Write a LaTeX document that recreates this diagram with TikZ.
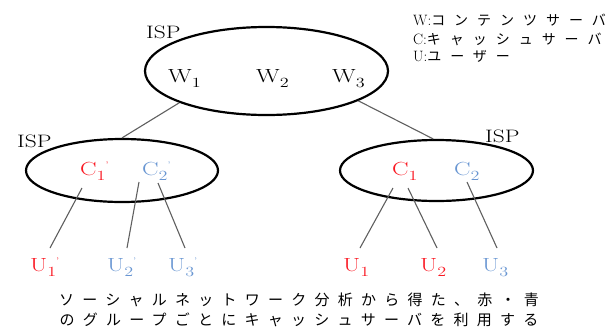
\documentclass[tikz,border=0pt]{standalone}
\usepackage{fontspec}
\usepackage{graphicx}
\usetikzlibrary{shapes.geometric}
\newfontfamily\jpfont[LetterSpace=55]{Noto Sans CJK JP}
\newfontfamily\jplegend[LetterSpace=64]{Noto Sans CJK JP}
\definecolor{cred}{RGB}{250,25,35}
\definecolor{cblue}{RGB}{105,150,210}
\definecolor{lgray}{RGB}{95,95,95}
% label: letter, subscript, prime
\newcommand\lab[3]{\scalebox{1.3}[1]{\fontsize{19}{19}\selectfont #1\raisebox{-5pt}{\fontsize{14}{14}\selectfont #2}#3}}
\newcommand\pr{\raisebox{7.5pt}{\fontsize{8}{8}\selectfont '}}
\newcommand\isp{\scalebox{1.3}[1]{\fontsize{18}{18}\selectfont ISP}}
\begin{document}
\begin{tikzpicture}[x=1pt,y=-1pt,
  ispell/.style={ellipse,draw=black,line width=2.2pt,inner sep=0pt},
  lbl/.style={anchor=base west,inner sep=0pt},
  conn/.style={draw=lgray,line width=1.1pt},
  legend/.style={anchor=west,inner sep=0pt,font=\jplegend\fontsize{14}{14}\selectfont}]
\useasboundingbox (0,0) rectangle (610,327);
% ellipses
\node[ispell,minimum width=243pt,minimum height=88pt] (top) at (266.5,71) {};
\node[ispell,minimum width=192pt,minimum height=63pt] (left) at (122,170.5) {};
\node[ispell,minimum width=193pt,minimum height=61pt] (right) at (436.5,170.5) {};
% ISP labels
\node[lbl] (ispT) at (146,38) {\isp};
\node[lbl] (ispL) at (17,147) {\isp};
\node[lbl] (ispR) at (485,142) {\isp};
% W labels
\node[lbl] (w1) at (168,82) {\lab{W}{1}{}};
\node[lbl] (w2) at (256,82) {\lab{W}{2}{}};
\node[lbl] (w3) at (332,82) {\lab{W}{3}{}};
% C labels
\node[lbl,text=cred] (c1p) at (80,175) {\lab{C}{1}{\pr}};
\node[lbl,text=cblue] (c2p) at (142,175) {\lab{C}{2}{\pr}};
\node[lbl,text=cred] (c1) at (392,175) {\lab{C}{1}{}};
\node[lbl,text=cblue] (c2) at (454,175) {\lab{C}{2}{}};
% U labels
\node[lbl,text=cred] (u1p) at (30,271) {\lab{U}{1}{\pr}};
\node[lbl,text=cblue] (u2p) at (107,271) {\lab{U}{2}{\pr}};
\node[lbl,text=cblue] (u3p) at (168,271) {\lab{U}{3}{\pr}};
\node[lbl,text=cred] (u1) at (343,271) {\lab{U}{1}{}};
\node[lbl,text=cred] (u2) at (420,271) {\lab{U}{2}{}};
\node[lbl,text=cblue] (u3) at (482,271) {\lab{U}{3}{}};
% connector end points
\coordinate (c1pS) at (82,188);
\coordinate (c2pSa) at (139,182);
\coordinate (c2pSb) at (158,183);
\coordinate (c1Sa) at (393,188);
\coordinate (c1Sb) at (408,188);
\coordinate (c2S) at (467,182);
\coordinate (u1pN) at (50,248);
\coordinate (u2pN) at (127,248);
\coordinate (u3pN) at (185,248);
\coordinate (u1N) at (360,248);
\coordinate (u2N) at (437,248);
\coordinate (u3N) at (497,248);
% connectors
\draw[conn] (top.200) -- (left.north);
\draw[conn] (top.342) -- (right.96);
\draw[conn] (c1pS) -- (u1pN);
\draw[conn] (c2pSa) -- (u2pN);
\draw[conn] (c2pSb) -- (u3pN);
\draw[conn] (c1Sa) -- (u1N);
\draw[conn] (c1Sb) -- (u2N);
\draw[conn] (c2S) -- (u3N);
% legend
\node[legend] (lgW) at (413,20) {{\fontsize{15}{15}\selectfont\rmfamily W:}コンテンツサーバ};
\node[legend] (lgC) at (413,39) {{\fontsize{15}{15}\selectfont\rmfamily C:}キャッシュサーバ};
\node[legend] (lgU) at (413,56) {{\fontsize{15}{15}\selectfont\rmfamily U:}ユーザー};
% caption
\node[inner sep=0pt,font=\jpfont\fontsize{15}{15}\selectfont] (cap1) at (299,300) {ソーシャルネットワーク分析から得た、赤・青};
\node[inner sep=0pt,font=\jpfont\fontsize{15}{15}\selectfont] (cap2) at (299,320) {のグループごとにキャッシュサーバを利用する};
\end{tikzpicture}
\end{document}
